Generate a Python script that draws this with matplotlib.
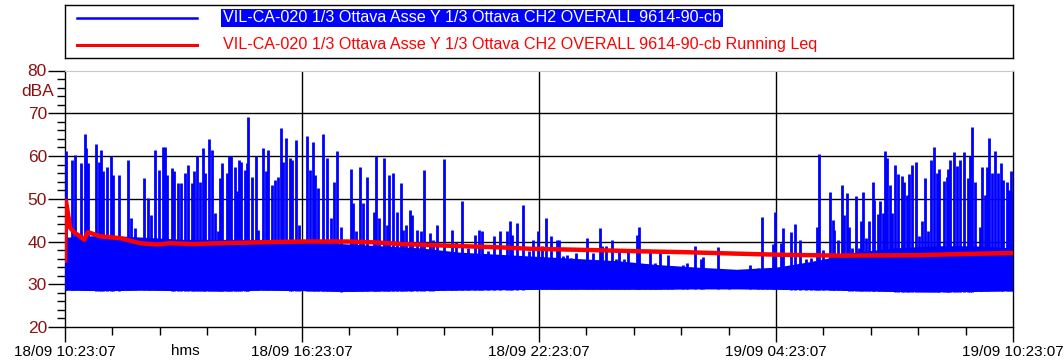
import matplotlib
matplotlib.use('Agg')
import matplotlib.pyplot as plt
from matplotlib.ticker import MultipleLocator, FixedLocator
import numpy as np

plt.rcParams['font.family'] = ['Liberation Sans Narrow', 'Liberation Sans', 'DejaVu Sans']

# ---------------------------------------------
# dati (ore dall'inizio, dBA)
# ---------------------------------------------
band_hours = [0, 1, 2, 3, 4, 5, 6, 7, 8, 9, 10, 11, 12, 13, 14, 15, 16,
              17, 18, 19, 20, 21, 22, 23, 24]
band_low = [28.6, 28.5, 28.6, 28.5, 28.4, 28.6, 28.5, 28.3, 28.4, 28.5, 28.6,
            28.7, 28.8, 28.8, 28.8, 28.8, 28.9, 28.9, 28.8, 28.7, 28.5, 28.3,
            28.2, 28.3, 28.5]
band_high = [41.0, 41.5, 41.0, 40.5, 40.5, 40.5, 40.0, 39.5, 39.0, 38.5, 37.5,
             37.0, 36.5, 36.0, 35.5, 34.6, 34.0, 33.5, 34.0, 35.5, 37.5, 38.5,
             39.0, 39.0, 38.5]

spike_hours = [
    0.03, 0.18, 0.25, 0.41, 0.51, 0.53, 0.59, 0.78, 0.85, 0.92, 0.95, 1.06,
    1.16, 1.22, 1.36, 1.60, 1.68, 1.77, 2.01, 2.11, 2.17, 2.28, 2.37, 2.49,
    2.54, 2.57, 2.71, 2.77, 2.87, 2.93, 3.05, 3.11, 3.22, 3.27, 3.33, 3.42,
    3.49, 3.55, 3.65, 3.72, 3.81, 3.88,
    3.92, 3.97, 4.09, 4.15, 4.20, 4.30, 4.35, 4.41, 4.46, 4.56, 4.62, 4.64,
    4.74, 4.84, 4.88, 5.02, 5.09, 5.13, 5.25, 5.32, 5.40, 5.48, 5.53, 5.59,
    5.69, 5.75, 5.84, 5.92, 6.13, 6.20, 6.28, 6.33, 6.40, 6.52, 6.63, 6.73,
    6.80, 6.88, 6.99, 7.23, 7.29, 7.36, 7.48, 7.54, 7.64, 7.82,
    7.87, 7.96, 8.08, 8.14, 8.21, 8.31, 8.40, 8.50, 8.56, 8.63, 8.73, 8.78,
    8.90, 9.01, 9.09, 9.24, 9.32, 9.41, 9.59, 9.80, 9.90, 10.06, 10.21, 10.38,
    10.49, 10.56, 10.72, 10.87, 11.01, 11.18, 11.27, 11.32, 11.44, 11.60, 11.75,
    11.86, 11.97, 12.08, 12.18, 12.30, 12.41, 12.46, 12.51, 12.62, 12.72, 12.80,
    12.93, 13.21, 13.37, 13.54, 13.60, 13.70, 13.84, 13.94, 14.03, 14.15, 14.26,
    14.49, 14.53, 14.68, 14.82, 14.94, 15.06, 15.26, 15.36, 15.65,
    15.75, 15.95, 16.09, 16.14, 16.54, 16.82, 17.34, 17.55, 17.65, 17.78, 17.92,
    17.98, 18.12, 18.17, 18.38, 18.48, 18.61, 18.76, 18.89, 18.99, 19.05, 19.10,
    19.20, 19.37, 19.44, 19.47, 19.57,
    19.66, 19.73, 19.79, 19.85, 19.93, 20.02, 20.10, 20.15, 20.20, 20.28, 20.35,
    20.46, 20.49, 20.57, 20.64, 20.70, 20.76, 20.80, 20.89, 20.94, 21.01, 21.08,
    21.18, 21.25, 21.31, 21.37, 21.44, 21.54, 21.62, 21.69, 21.77, 21.84, 21.92,
    22.01, 22.07, 22.13, 22.25, 22.32, 22.36, 22.41, 22.51, 22.58, 22.67, 22.77,
    22.87, 22.91, 22.97, 23.04, 23.16, 23.22, 23.29, 23.35, 23.39, 23.46, 23.54,
    23.63, 23.69, 23.75, 23.84, 23.90, 23.95, 23.99,
]
spike_peaks = [
    61.1, 59.1, 60.3, 58.3, 65.1, 61.8, 58.3, 62.8, 58.7, 61.4, 56.4, 57.5,
    59.9, 55.6, 55.6, 59.0, 45.5, 43.2, 54.8, 50.2, 46.3, 61.4, 56.8, 62.2,
    62.2, 55.6, 57.3, 56.4, 53.7, 53.7, 56.0, 57.9, 53.7, 56.4, 59.9, 53.9,
    61.8, 56.0, 63.9, 61.4, 46.6, 42.4,
    54.8, 58.3, 56.0, 59.9, 59.9, 57.5, 51.7, 59.1, 58.7, 56.8, 58.3, 69.1,
    55.2, 59.9, 42.8, 61.8, 56.4, 61.4, 53.3, 54.4, 55.2, 66.5, 58.7, 64.2,
    59.5, 59.1, 63.8, 43.9, 64.6, 56.8, 63.2, 55.6, 52.5, 65.1, 59.5, 45.5,
    53.9, 61.2, 43.5, 57.0, 49.0, 42.4, 57.4, 49.0, 55.2, 47.0,
    59.9, 45.5, 59.5, 43.9, 55.6, 56.0, 47.0, 53.7, 42.8, 43.9, 47.4, 46.3,
    42.8, 42.4, 56.8, 42.0, 40.4, 43.9, 59.3, 42.8, 40.0, 49.4, 38.5, 41.6,
    42.8, 42.4, 37.7, 41.2, 42.4, 42.4, 44.7, 41.6, 44.3, 48.6, 37.7,
    40.4, 42.4, 38.9, 45.5, 41.2, 36.1, 40.4, 40.4, 36.5, 36.9, 36.1,
    37.3, 40.8, 37.3, 43.2, 38.9, 38.9, 40.3, 35.8, 37.7, 35.8, 38.1,
    41.6, 43.4, 33.4, 38.1, 35.0, 38.1, 36.9, 33.8, 34.6,
    35.0, 38.9, 35.8, 36.4, 38.6, 33.4, 34.4, 33.7, 45.7, 33.4, 39.3,
    46.9, 39.6, 43.2, 42.2, 44.1, 40.3, 35.8, 36.1, 35.4, 43.3, 60.4,
    38.1, 51.6, 45.1, 42.8, 40.3,
    53.3, 46.3, 51.4, 43.5, 38.5, 50.6, 38.5, 44.7, 51.6, 40.8, 44.7,
    54.0, 49.8, 46.4, 49.5, 46.7, 61.2, 59.5, 53.3, 46.7, 58.0, 55.8,
    55.3, 54.0, 50.9, 55.8, 57.8, 58.6, 41.2, 44.7, 54.8, 42.4, 59.1,
    62.0, 56.0, 57.0, 54.2, 55.2, 57.0, 59.1, 60.9, 57.7, 59.1, 60.9,
    54.8, 59.9, 66.7, 54.0, 43.5, 57.5, 50.9, 57.5, 64.3, 56.0, 61.2,
    56.0, 58.3, 54.4, 54.0, 52.1, 56.4, 51.6,
]

leq_hours = [0.0, 0.025, 0.13, 0.25, 0.38, 0.48, 0.58, 0.89, 1.39, 1.90, 2.33,
             2.66, 3.24, 3.92, 4.89, 6.0, 7.16, 7.85, 8.56, 9.75, 11.09, 11.77,
             13.34, 14.61, 15.70, 16.84, 18.10, 19.62, 21.59, 22.86, 24.0]
leq_values = [35.0, 49.5, 43.2, 42.0, 41.2, 40.4, 42.2, 41.2, 40.8, 39.6, 39.3,
              39.6, 39.4, 39.6, 39.8, 40.0, 40.0, 39.8, 39.4, 39.0, 38.6, 38.3,
              38.0, 37.7, 37.5, 37.2, 36.9, 36.7, 36.8, 37.1, 37.3]

x_labels = ['18/09 10:23:07', '18/09 16:23:07', '18/09 22:23:07',
            '19/09 04:23:07', '19/09 10:23:07']
name_blue = 'VIL-CA-020 1/3 Ottava Asse Y 1/3 Ottava CH2 OVERALL 9614-90-cb'
name_red = name_blue + ' Running Leq'

dark_red = '#8b1212'

# ---------------------------------------------
# figura
# ---------------------------------------------
W, H = 1064, 363
fig = plt.figure(figsize=(W / 100, H / 100), dpi=100)
ax = fig.add_axes([65 / W, 1 - 327 / H, 948 / W, (327 - 70.5) / H])

# banda di fondo + picchi
base = np.interp(spike_hours, band_hours, band_low)
ax.fill_between(band_hours, band_low, band_high, color='#0000ff', lw=0, zorder=2)
ax.vlines(spike_hours, base, spike_peaks, color='#0000ff', lw=2.0, zorder=3)

# Leq
ax.plot(leq_hours, leq_values, color='#ff0000', lw=3.2, zorder=4,
        solid_capstyle='butt')

ax.set_xlim(0, 24)
ax.set_ylim(20, 80)

# griglia
for y in [30, 40, 50, 60, 70]:
    ax.axhline(y, color='black', lw=1.0, zorder=1)
for x in [6, 12, 18]:
    ax.axvline(x, color='black', lw=1.0, zorder=1)

for s in ['left', 'right', 'bottom']:
    ax.spines[s].set_color('black')
    ax.spines[s].set_linewidth(1.0)
ax.spines['top'].set_color('#c8c8c8')

ax.yaxis.set_major_locator(MultipleLocator(10))
ax.yaxis.set_minor_locator(MultipleLocator(2))
ax.xaxis.set_major_locator(FixedLocator([0, 6, 12, 18, 24]))
ax.xaxis.set_minor_locator(MultipleLocator(1.2))
ax.tick_params(axis='y', which='major', length=12, width=1, direction='out',
               labelsize=12.5, labelcolor=dark_red, pad=1)
ax.tick_params(axis='y', which='minor', length=6, width=1, direction='out')
ax.tick_params(axis='x', which='major', length=11, width=1, direction='out',
               labelsize=11, pad=2)
ax.tick_params(axis='x', which='minor', length=6, width=1, direction='out')
ax.set_xticklabels(x_labels)

ax.text(-0.012, 75.2, 'dBA', transform=ax.get_yaxis_transform(), ha='right',
        va='center', fontsize=12.5, color=dark_red)
fig.text(185 / W, 1 - 351 / H, 'hms', ha='center', va='center', fontsize=11)

# legenda
lax = fig.add_axes([65 / W, 1 - 58 / H, 948 / W, 53 / H])
lax.set_xlim(0, 948)
lax.set_ylim(53, 0)
lax.set_xticks([])
lax.set_yticks([])
for s in lax.spines.values():
    s.set_linewidth(1.0)
lax.plot([12, 132], [13, 13], color='#0000ff', lw=1.8)
lax.plot([12, 132], [40, 40], color='#ff0000', lw=2.2)
lax.text(158, 13, name_blue, ha='left', va='center', fontsize=11.6,
         color='white', bbox=dict(boxstyle='square,pad=0.12',
                                  facecolor='#0000ff', edgecolor='none'))
lax.text(158, 40, name_red, ha='left', va='center', fontsize=11.6,
         color='#ff0000')

fig.savefig('out.png', dpi=100)
